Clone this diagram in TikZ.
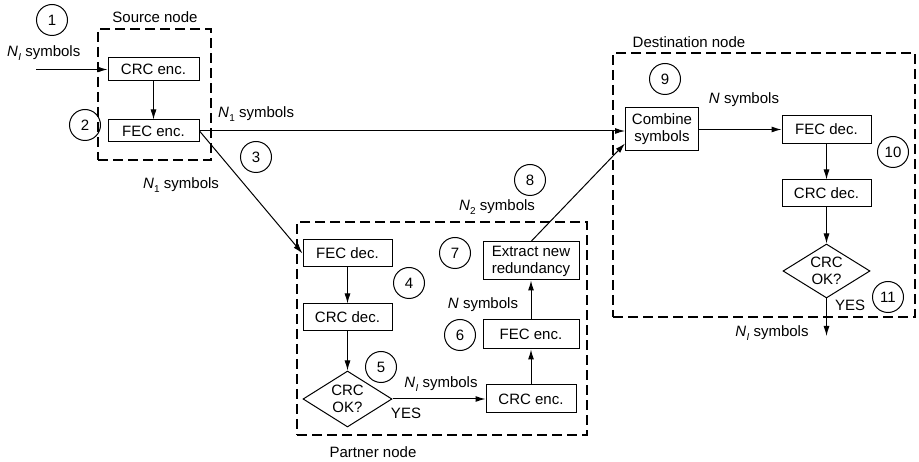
\documentclass[tikz,border=0pt]{standalone}
\usepackage{fontspec}
\setmainfont{Liberation Sans}
\usetikzlibrary{arrows.meta,shapes.geometric,calc}
\newcommand{\NN}[1]{\textit{N}\kern0.3pt\raisebox{-3.5pt}{\fontsize{10}{10}\selectfont #1}}
\begin{document}
\begin{tikzpicture}[x=1pt,y=-1pt,
  every node/.style={font=\fontsize{15}{17}\selectfont},
  box/.style={draw, line width=1pt, inner sep=0pt, align=center},
  dia/.style={draw, diamond, aspect=1.56, line width=1pt, inner sep=0pt, align=center, minimum width=89pt, minimum height=56pt},
  num/.style={draw, circle, line width=1pt, inner sep=0pt, minimum size=31pt},
  dbox/.style={draw, line width=2.7pt, dash pattern=on 10pt off 5pt, inner sep=0pt},
  lbl/.style={inner sep=0pt},
  arr/.style={line width=1pt, -{Latex[length=10pt,width=6pt]}},
  ln/.style={line width=1pt}]
\useasboundingbox (0,0) rectangle (919,462);
\fill[white] (0,0) rectangle (919,462);

% dashed enclosures
\node[dbox, minimum width=113pt, minimum height=131pt] (src) at (154.5,94.5) {};
\node[dbox, minimum width=290pt, minimum height=213pt] (par) at (442,328.5) {};
\node[dbox, minimum width=302pt, minimum height=264pt] (dst) at (764,185) {};

\node[lbl] (srcl) at (155,17) {Source node};
\node[lbl] (parl) at (373,452) {Partner node};
\node[lbl] (dstl) at (689,42) {Destination node};

% source node
\node[box, minimum width=91pt, minimum height=23pt] (crcE1) at (153.5,69.5) {CRC enc.};
\node[box, minimum width=91pt, minimum height=22pt] (fecE1) at (153.5,131) {FEC enc.};
\coordinate (in1) at (36,69.5);

% partner node
\node[box, minimum width=89pt, minimum height=27pt] (fecD1) at (347.5,253.5) {FEC dec.};
\node[box, minimum width=89pt, minimum height=27pt] (crcD1) at (347.5,317.5) {CRC dec.};
\node[dia] (dia1) at (347.5,399) {CRC\\OK?};
\node[box, minimum width=90pt, minimum height=28pt] (crcE2) at (531,399) {CRC enc.};
\node[box, minimum width=96pt, minimum height=29pt] (fecE2) at (531,334.5) {FEC enc.};
\node[box, minimum width=96pt, minimum height=38pt] (extr) at (531,261) {Extract new\\redundancy};

% destination node
\node[box, minimum width=73pt, minimum height=43pt] (comb) at (662,129.5) {Combine\\symbols};
\node[box, minimum width=89pt, minimum height=28pt] (fecD2) at (826.5,129.5) {FEC dec.};
\node[box, minimum width=89pt, minimum height=27pt] (crcD2) at (826.5,193.5) {CRC dec.};
\node[dia, minimum width=87pt, minimum height=54pt] (dia2) at (826.5,271) {CRC\\OK?};
\coordinate (out) at (826.5,336);

% numbered circles
\node[num] (c1) at (52,20) {1};
\node[num] (c2) at (85,125) {2};
\node[num] (c3) at (256,157) {3};
\node[num] (c4) at (409,283) {4};
\node[num] (c5) at (381,367) {5};
\node[num] (c6) at (460,335) {6};
\node[num] (c7) at (455,253) {7};
\node[num] (c8) at (530,180) {8};
\node[num] (c9) at (665,79) {9};
\node[num] (c10) at (893,152) {10};
\node[num] (c11) at (888,297) {11};

% labels
\node[lbl, anchor=west] (l1) at (7,53) {\NN{\textit{I}} symbols};
\node[lbl, anchor=west] (l2) at (218,114) {\NN{1} symbols};
\node[lbl] (l3) at (181,185) {\NN{1} symbols};
\node[lbl] (l4) at (497,207) {\NN{2} symbols};
\node[lbl] (l5) at (483,305) {\textit{N} symbols};
\node[lbl] (l6) at (441,384) {\NN{\textit{I}} symbols};
\node[lbl] (y1) at (406,413) {YES};
\node[lbl] (l7) at (744,100) {\textit{N} symbols};
\node[lbl] (y2) at (850,305) {YES};
\node[lbl] (l8) at (772,333) {\NN{\textit{I}} symbols};

% connectors
\draw[arr] (in1) -- (crcE1.west);
\draw[arr] (crcE1) -- (fecE1);
\draw[arr] (fecE1.east) -- (fecE1.east -| comb.west);
\draw[arr] (fecE1.east) -- (fecD1.west);
\draw[arr] (fecD1) -- (crcD1);
\draw[arr] (crcD1) -- (dia1);
\draw[arr] (dia1.east) -- (crcE2.west);
\draw[arr] (crcE2) -- (fecE2);
\draw[arr] (fecE2) -- (extr);
\draw[arr] (extr.north) -- ([yshift=8pt]comb.south west);
\draw[arr] (comb) -- (fecD2);
\draw[arr] (fecD2) -- (crcD2);
\draw[arr] (crcD2) -- (dia2);
\draw[arr] (dia2.south) -- (out);
\end{tikzpicture}
\end{document}
